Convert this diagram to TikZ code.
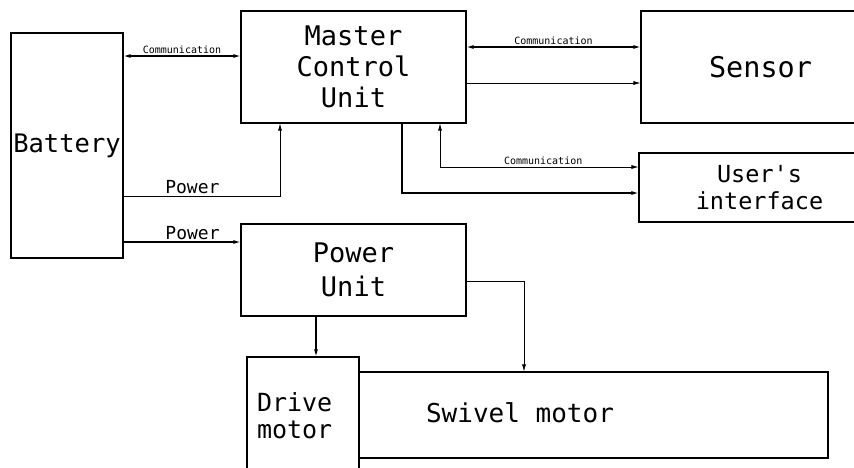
\documentclass[tikz,border=0pt]{standalone}
\usepackage{fontspec}
\setmonofont{DejaVu Sans Mono}
\usetikzlibrary{arrows.meta,positioning}
\tikzset{
  unit/.style    = {draw, line width=1.1pt, inner sep=0pt, align=center},
  sig/.style     = {-{Latex[length=7pt,width=4pt]}, line width=1.1pt},
  bisig/.style   = {{Latex[length=7pt,width=4pt]}-{Latex[length=7pt,width=4pt]}, line width=1.1pt},
  thinsig/.style = {-{Latex[length=7pt,width=4pt]}, line width=0.7pt},
  thinbisig/.style = {{Latex[length=7pt,width=4pt]}-{Latex[length=7pt,width=4pt]}, line width=0.7pt},
  tag/.style     = {font=\ttfamily\fontsize{10}{12}\selectfont, inner sep=2pt},
  pwrtag/.style  = {font=\ttfamily\fontsize{18}{20}\selectfont, inner sep=2pt},
}

\begin{document}
\begin{tikzpicture}[x=1pt,y=-1pt,font=\ttfamily]
\clip (0,0) rectangle (854,467);
% blocks
\node[unit,minimum width=112,minimum height=225,font=\ttfamily\fontsize{25.5}{30}\selectfont] (bat) at (67,145.5) {Battery};
\node[unit,minimum width=225,minimum height=112,font=\ttfamily\fontsize{27}{31}\selectfont] (mcu) at (353.5,67) {Master\\Control\\Unit};
\node[unit,minimum width=239,minimum height=112,font=\ttfamily\fontsize{28.5}{32}\selectfont] (sensor) at (760.5,67) {Sensor};
\node[unit,minimum width=241,minimum height=69,font=\ttfamily\fontsize{23.5}{27}\selectfont] (ui) at (759.5,187.5) {User's\\interface};
\node[unit,minimum width=225,minimum height=92,font=\ttfamily\fontsize{27}{34}\selectfont] (pu) at (353.5,270) {Power\\Unit};
\node[unit,minimum width=469,minimum height=86] (swivel) at (593.5,415) {};
\node[font=\ttfamily\fontsize{26}{30}\selectfont] (swiveltxt) at (520,413) {Swivel motor};
\node[unit,minimum width=112,minimum height=118,text width=92,inner xsep=10,align=left,font=\ttfamily\fontsize{25}{27}\selectfont] (drive) at (303,416) {Drive\\motor};
% links
\draw[bisig] (bat.east |- 0,56) -- node[tag,above]{Communication} (mcu.west |- 0,56);
\draw[thinsig] (bat.east |- 0,196) -| node[pwrtag,above,pos=0.22]{Power} (mcu.south -| 280,0);
\draw[sig] (bat.east |- 0,242) -- node[pwrtag,above,pos=0.59]{Power} (pu.west |- 0,242);
\draw[bisig] (mcu.east |- 0,47) -- node[tag,above]{Communication} (sensor.west |- 0,47);
\draw[thinsig] (mcu.east |- 0,83) -- (sensor.west |- 0,83);
\draw[thinbisig] (ui.west |- 0,167) -| node[tag,above,pos=0.24]{Communication} (mcu.south -| 440,0);
\draw[sig] (mcu.south -| 402,0) |- (ui.west |- 0,193);
\draw[sig] (pu.south -| 316,0) -- (drive.north -| 316,0);
\draw[thinsig] (pu.east |- 0,281) -| (swivel.north -| 524,0);
\end{tikzpicture}
\end{document}
